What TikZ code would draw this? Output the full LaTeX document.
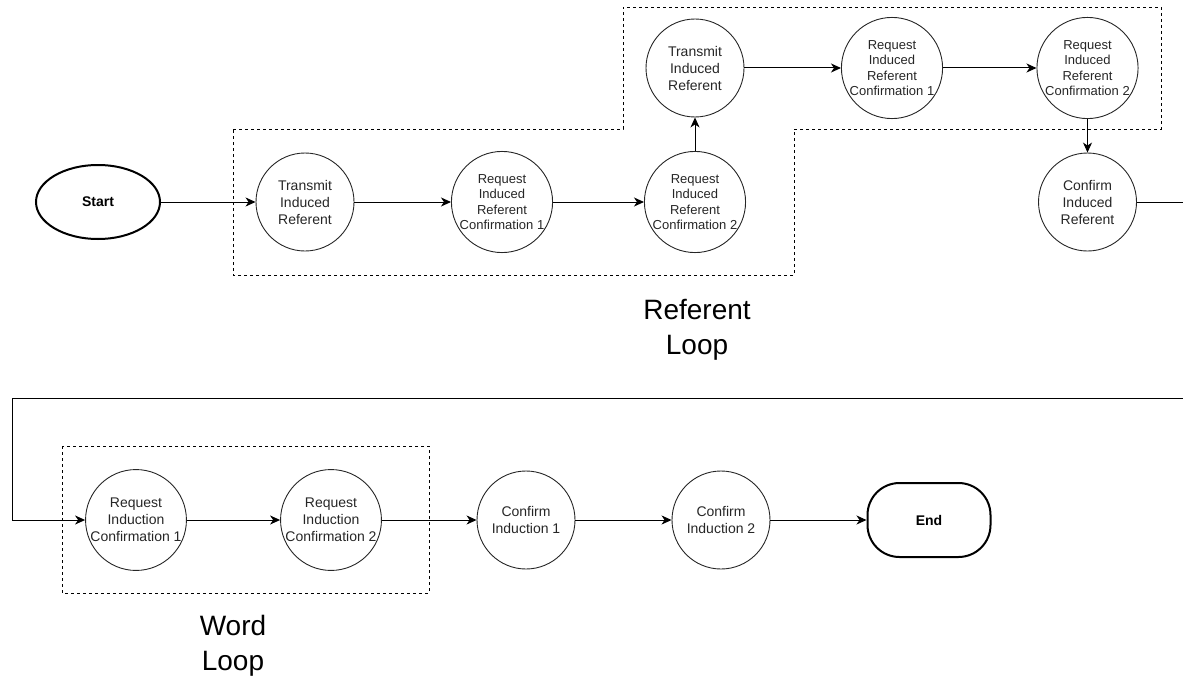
\documentclass[tikz,border=0pt]{standalone}
\usepackage{fontspec}
\setmainfont{Liberation Sans}
\usetikzlibrary{arrows.meta,shapes.geometric}
\begin{document}
\begin{tikzpicture}[x=1pt,y=-1pt,
  state/.style={circle,draw=black!85,line width=0.9pt,minimum size=98pt,inner sep=0pt,align=center,text=black!85,font=\fontsize{14}{17}\selectfont},
  statefour/.style={state,font=\fontsize{13}{15.6}\selectfont},
  term/.style={draw,line width=2pt,font=\bfseries\fontsize{14}{17}\selectfont},
  flow/.style={line width=1pt,-{Stealth[length=10pt,width=9pt,inset=3pt]}},
  group/.style={draw,line width=0.9pt,dash pattern=on 3pt off 3pt},
  looplabel/.style={font=\fontsize{28}{35}\selectfont,align=center}]
\path[use as bounding box, clip] (0,0) rectangle (1183,677);

% groups
\draw[group] (233,129) -- (623,129) -- (623,7) -- (1161,7) -- (1161,129) -- (794,129) -- (794,275) -- (233,275) -- cycle;
\draw[group] (62,446) rectangle (429,593);

% nodes
\node[term,ellipse,minimum width=124pt,minimum height=74pt,inner sep=0pt] (start) at (98,202) {Start};
\node[state] (t1) at (305,202) {Transmit\\Induced\\Referent};
\node[statefour] (r1) at (502,202) {Request\\Induced\\Referent\\Confirmation 1};
\node[statefour] (r2) at (695,202) {Request\\Induced\\Referent\\Confirmation 2};
\node[state] (t2) at (695,68) {Transmit\\Induced\\Referent};
\node[statefour] (r3) at (892,68) {Request\\Induced\\Referent\\Confirmation 1};
\node[statefour] (r4) at (1087.5,68) {Request\\Induced\\Referent\\Confirmation 2};
\node[state] (cir) at (1087.5,202) {Confirm\\Induced\\Referent};

\node[state] (ric1) at (136,520) {Request\\Induction\\Confirmation 1};
\node[state] (ric2) at (331,520) {Request\\Induction\\Confirmation 2};
\node[state] (ci1) at (526,520) {Confirm\\Induction 1};
\node[state] (ci2) at (721,520) {Confirm\\Induction 2};
\node[term,rounded corners=32pt,minimum width=123pt,minimum height=74pt,inner sep=0pt] (end) at (929,520) {End};

\node[looplabel] (rl) at (697,330) {Referent\\Loop};
\node[looplabel] (wl) at (233,646) {Word\\Loop};

% connectors
\coordinate (c1) at (1200,202);
\coordinate (c2) at (1200,398);
\coordinate (c3) at (12,398);
\coordinate (c4) at (12,520);

\draw[flow] (start.east) -- (t1.west);
\draw[flow] (t1.east) -- (r1.west);
\draw[flow] (r1.east) -- (r2.west);
\draw[flow] (r2.north) -- (t2.south);
\draw[flow] (t2.east) -- (r3.west);
\draw[flow] (r3.east) -- (r4.west);
\draw[flow] (r4.south) -- (cir.north);
\draw[flow] (cir.east) -- (c1) -- (c2) -- (c3) -- (c4) -- (ric1.west);
\draw[flow] (ric1.east) -- (ric2.west);
\draw[flow] (ric2.east) -- (ci1.west);
\draw[flow] (ci1.east) -- (ci2.west);
\draw[flow] (ci2.east) -- (end.west);
\end{tikzpicture}
\end{document}
